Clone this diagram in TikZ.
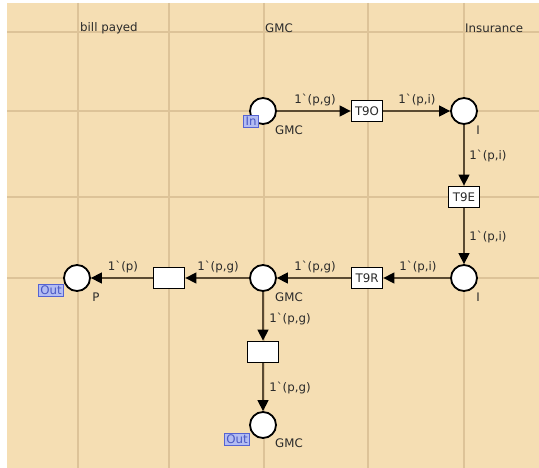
\documentclass[tikz,border=0pt]{standalone}
\usepackage{fontspec}
\newfontfamily\cpnfont{DejaVu Sans}
\usetikzlibrary{arrows.meta}
\definecolor{bgwheat}{HTML}{F5DEB3}
\definecolor{gridc}{HTML}{DDC398}
\definecolor{arcc}{HTML}{5A4A32}
\definecolor{tagfill}{HTML}{B3BCF2}
\definecolor{tagdraw}{HTML}{5563D3}
\definecolor{tagtext}{HTML}{4A58C4}
\definecolor{txt}{HTML}{2A2A2A}
\newcommand\bq{\char96\relax}
\tikzset{
  every node/.style={font=\cpnfont\fontsize{11.8}{13}\selectfont, text=txt},
  place/.style={circle, draw=black, fill=white, line width=1.8pt, minimum size=26pt, inner sep=0pt},
  trans/.style={rectangle, draw=black, fill=white, line width=1.8pt, minimum width=31pt, minimum height=21pt, inner sep=0pt},
  arc/.style={draw=arcc, line width=1.4pt, -{Triangle[length=11pt,width=11pt,color=black]}},
  tag/.style={rectangle, draw=tagdraw, fill=tagfill, text=tagtext, line width=0.8pt, inner xsep=2pt, inner ysep=0.5pt, minimum height=12pt},
  gridline/.style={draw=gridc, line width=1.3pt},
  lbl/.style={inner sep=0pt}
}
\begin{document}
\begin{tikzpicture}[x=1pt,y=-1pt]
\useasboundingbox (0,0) rectangle (539,468);
\fill[bgwheat] (7,3) rectangle (539,468);
% grid
\foreach \gx in {78,169,264,368,464} {\draw[gridline] (\gx,3) -- (\gx,468);}
\foreach \gy in {32,111,197,278} {\draw[gridline] (7,\gy) -- (539,\gy);}
% headers
\node[lbl, anchor=west] (hbill) at (80,28) {bill payed};
\node[lbl, anchor=west] (hgmc) at (265,28) {GMC};
\node[lbl, anchor=west] (hins) at (465,28) {Insurance};
% places and transitions
\node[place] (gmcin) at (263,111) {};
\node[trans] (t9o) at (367,111) {T9O};
\node[place] (itop) at (464,111) {};
\node[trans] (t9e) at (464,197) {T9E};
\node[place] (ibot) at (464,278) {};
\node[trans] (t9r) at (367,278) {T9R};
\node[place] (gmcmid) at (263,278) {};
\node[trans] (tleft) at (169,278) {};
\node[place] (pp) at (77,278) {};
\node[trans] (tbot) at (263,352) {};
\node[place] (gmcout) at (263,425) {};
% arcs
\draw[arc] (gmcin) -- (t9o);
\draw[arc] (t9o) -- (itop);
\draw[arc] (itop) -- (t9e);
\draw[arc] (t9e) -- (ibot);
\draw[arc] (ibot) -- (t9r);
\draw[arc] (t9r) -- (gmcmid);
\draw[arc] (gmcmid) -- (tleft);
\draw[arc] (tleft) -- (pp);
\draw[arc] (gmcmid) -- (tbot);
\draw[arc] (tbot) -- (gmcout);
% tags
\node[tag] (tagin) at (251,121) {In};
\node[tag] (tagout1) at (51,290) {Out};
\node[tag] (tagout2) at (237,439) {Out};
% place labels
\node[lbl] (lgmcin) at (289,130) {GMC};
\node[lbl] (litop) at (478,130) {I};
\node[lbl] (libot) at (478,297) {I};
\node[lbl] (lgmcmid) at (289,297) {GMC};
\node[lbl] (lpp) at (96,297) {P};
\node[lbl] (lgmcout) at (289,443) {GMC};
% arc labels
\node[lbl] (a1) at (315,100) {1\bq(p,g)};
\node[lbl] (a2) at (417,100) {1\bq(p,i)};
\node[lbl] (a3) at (488,156) {1\bq(p,i)};
\node[lbl] (a4) at (488,237) {1\bq(p,i)};
\node[lbl] (a5) at (418,267) {1\bq(p,i)};
\node[lbl] (a6) at (315,267) {1\bq(p,g)};
\node[lbl] (a7) at (218,267) {1\bq(p,g)};
\node[lbl] (a8) at (123,267) {1\bq(p)};
\node[lbl] (a9) at (290,319) {1\bq(p,g)};
\node[lbl] (a10) at (290,388) {1\bq(p,g)};
\end{tikzpicture}
\end{document}
